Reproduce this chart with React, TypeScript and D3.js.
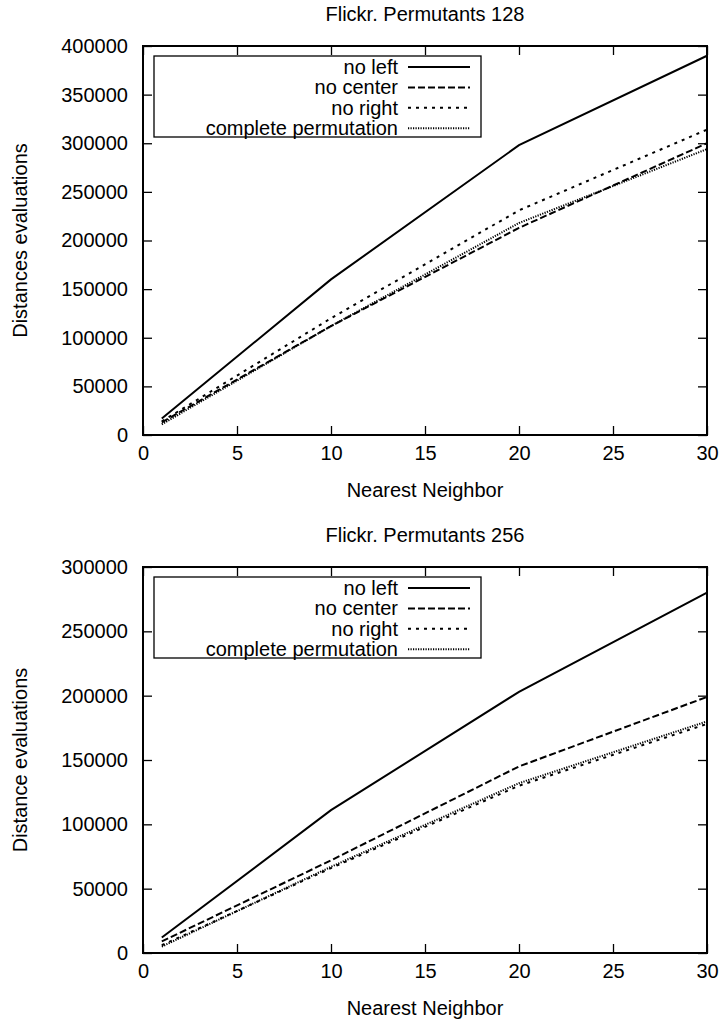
import React, { useRef, useEffect } from 'react';
import * as d3 from 'd3';

const neighbors = [1, 10, 20, 30];
const xTicks = [0, 5, 10, 15, 20, 25, 30];

// Permutants 128
const noLeft128 = [17000, 160000, 298000, 390000];
const noCenter128 = [13000, 112000, 213000, 300000];
const noRight128 = [14000, 120000, 231000, 314000];
const complete128 = [11000, 112000, 218000, 294000];
const yTicks128 = [0, 50000, 100000, 150000, 200000, 250000, 300000, 350000, 400000];

// Permutants 256
const noLeft256 = [12000, 111000, 203000, 280000];
const noCenter256 = [9000, 72000, 145000, 199000];
const noRight256 = [6000, 66000, 130000, 178000];
const complete256 = [5000, 67000, 132000, 180000];
const yTicks256 = [0, 50000, 100000, 150000, 200000, 250000, 300000];

const seriesNames = ['no left', 'no center', 'no right', 'complete permutation'];
const dashes = [null, '7,3', '3,5', '1.2,1.3'];

const FONT = "'Liberation Sans', Arial, Helvetica, sans-serif";

export default function App() {
  const ref = useRef<SVGSVGElement>(null);

  useEffect(() => {
    const svg = d3.select(ref.current);
    svg.selectAll('*').remove();

    const left = 143;
    const right = 707;

    // draws one panel
    function panel(top: number, bottom: number, title: string, yLabel: string,
                   yMax: number, yTicks: number[], series: number[][]) {
      const x = d3.scaleLinear().domain([0, 30]).range([left, right]);
      const y = d3.scaleLinear().domain([0, yMax]).range([bottom, top]);
      const g = svg.append('g').style('font-family', FONT);

      // ticks (inward, mirrored)
      const axL = g.append('g').attr('transform', `translate(${left},0)`)
        .call(d3.axisLeft(y).tickValues(yTicks).tickSize(-9).tickPadding(15).tickFormat(d3.format('d')));
      const axR = g.append('g').attr('transform', `translate(${right},0)`)
        .call(d3.axisRight(y).tickValues(yTicks).tickSize(-9).tickFormat(() => ''));
      const axB = g.append('g').attr('transform', `translate(0,${bottom})`)
        .call(d3.axisBottom(x).tickValues(xTicks).tickSize(-9).tickPadding(11));
      const axT = g.append('g').attr('transform', `translate(0,${top})`)
        .call(d3.axisTop(x).tickValues(xTicks).tickSize(-9).tickFormat(() => ''));
      for (const a of [axL, axR, axB, axT]) {
        a.select('.domain').remove();
        a.selectAll('line').attr('stroke', '#000').attr('stroke-width', 1.3);
        a.selectAll('text').attr('fill', '#000').style('font-size', '20px').style('font-family', FONT);
      }

      // frame
      g.append('rect')
        .attr('x', left).attr('y', top)
        .attr('width', right - left).attr('height', bottom - top)
        .attr('fill', 'none').attr('stroke', '#000').attr('stroke-width', 2);

      // lines
      const line = d3.line<number>()
        .x((d, i) => x(neighbors[i]))
        .y(d => y(d));
      series.forEach((s, i) => {
        g.append('path')
          .attr('d', line(s))
          .attr('fill', 'none')
          .attr('stroke', '#000')
          .attr('stroke-width', 2)
          .attr('stroke-dasharray', dashes[i]);
      });

      // legend
      const lx = left + 11;
      const ly = top + 10;
      g.append('rect')
        .attr('x', lx).attr('y', ly).attr('width', 327).attr('height', 81)
        .attr('fill', '#fff').attr('stroke', '#000').attr('stroke-width', 1.3);
      seriesNames.forEach((name, i) => {
        const cy = ly + 11 + i * 20.4;
        g.append('text')
          .attr('x', lx + 244).attr('y', cy + 7)
          .attr('text-anchor', 'end')
          .style('font-size', '20px')
          .text(name);
        g.append('line')
          .attr('x1', lx + 254).attr('x2', lx + 316)
          .attr('y1', cy).attr('y2', cy)
          .attr('stroke', '#000').attr('stroke-width', 2)
          .attr('stroke-dasharray', dashes[i]);
      });

      // titles
      g.append('text')
        .attr('x', (left + right) / 2).attr('y', top - 25)
        .attr('text-anchor', 'middle').style('font-size', '20px')
        .text(title);
      g.append('text')
        .attr('x', (left + right) / 2).attr('y', bottom + 62)
        .attr('text-anchor', 'middle').style('font-size', '20px')
        .text('Nearest Neighbor');
      g.append('text')
        .attr('transform', `translate(27,${(top + bottom) / 2}) rotate(-90)`)
        .attr('text-anchor', 'middle').style('font-size', '20px')
        .text(yLabel);
    }

    panel(46, 435, 'Flickr. Permutants 128', 'Distances evaluations', 400000, yTicks128,
      [noLeft128, noCenter128, noRight128, complete128]);
    panel(567, 953, 'Flickr. Permutants 256', 'Distance evaluations', 300000, yTicks256,
      [noLeft256, noCenter256, noRight256, complete256]);
  }, []);

  return (
    <svg ref={ref} width={723} height={1021}
      style={{ position: 'absolute', left: 0, top: 0, background: '#fff' }} />
  );
}
